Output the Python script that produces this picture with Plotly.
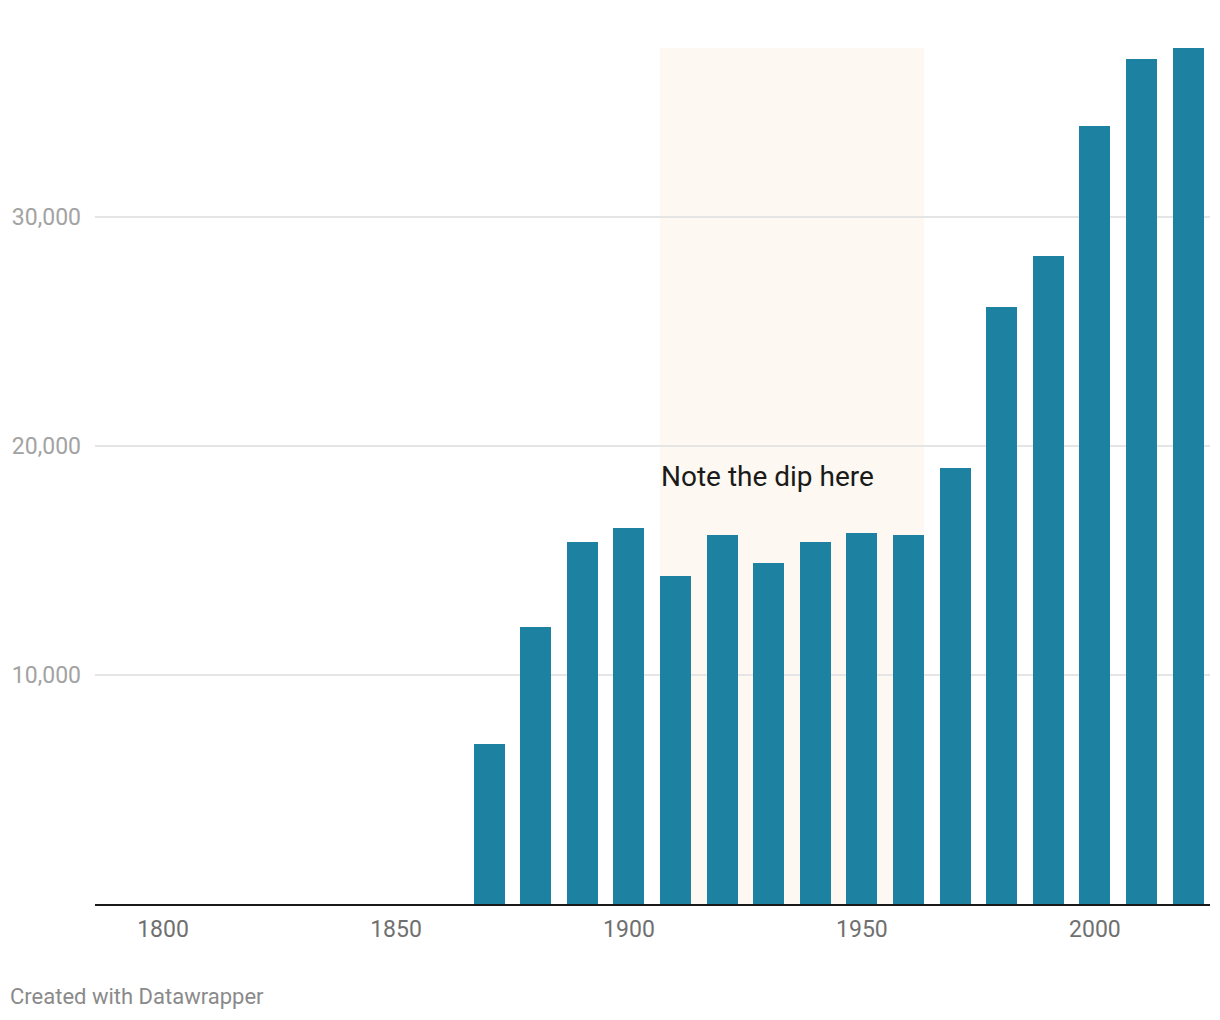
import plotly.graph_objects as go

years = [1870, 1880, 1890, 1900, 1910, 1920, 1930, 1940, 1950, 1960,
         1970, 1980, 1990, 2000, 2010, 2020]
values = [7000, 12100, 15800, 16400, 14300, 16100, 14900, 15800, 16200, 16100,
          19050, 26050, 28280, 33950, 36880, 37360]

y_tick_vals = [10000, 20000, 30000]
y_tick_text = ["10,000", "20,000", "30,000"]
x_tick_vals = [1800, 1850, 1900, 1950, 2000]
x_tick_text = ["1800", "1850", "1900", "1950", "2000"]

highlight_from = 1910
highlight_to = 1960
annotation_text = "Note the dip here"
annotation_value = 18670
footer_text = "Created with Datawrapper"

BAR_W = 6.65
BAR_COLOR = "#1d81a2"
FONT = "Roboto"

W, H = 1220, 1020
ML, MR, MT, MB = 95, 10, 48, 116

fig = go.Figure()
fig.add_trace(go.Bar(
    x=years, y=values, width=BAR_W,
    marker=dict(color=BAR_COLOR, line=dict(width=0)),
    hoverinfo="x+y",
))

fig.add_shape(
    type="rect", xref="x", yref="paper",
    x0=highlight_from - BAR_W / 2, x1=highlight_to + BAR_W / 2,
    y0=0, y1=1,
    fillcolor="#fdf8f1", line=dict(width=0), layer="below",
)

fig.add_annotation(
    x=highlight_from - BAR_W / 2, y=annotation_value, xref="x", yref="y",
    text=annotation_text, showarrow=False, xanchor="left", yanchor="middle",
    xshift=-1,
    font=dict(family=FONT, size=28, color="#1a1a1a"),
)

fig.add_annotation(
    x=-(ML - 8) / (W - ML - MR), y=-(997 - (H - MB)) / (H - MT - MB),
    xref="paper", yref="paper",
    text=footer_text, showarrow=False, xanchor="left", yanchor="middle",
    font=dict(family=FONT, size=22, color="#8a8a8a"),
)

fig.update_layout(
    width=W, height=H,
    margin=dict(l=ML, r=MR, t=MT, b=MB, pad=0),
    paper_bgcolor="white", plot_bgcolor="white",
    showlegend=False,
    bargap=0,
    font=dict(family=FONT),
    xaxis=dict(
        range=[1785.4, 2024.7],
        tickvals=x_tick_vals, ticktext=x_tick_text,
        showgrid=False, zeroline=False,
        showline=True, linecolor="#1a1a1a", linewidth=2,
        ticks="", ticklabelstandoff=3,
        tickfont=dict(family=FONT, size=23, color="#707070"),
        fixedrange=True,
    ),
    yaxis=dict(
        range=[0, 37360],
        tickvals=y_tick_vals, ticktext=y_tick_text,
        showgrid=True, gridcolor="#e5e5e5", gridwidth=2,
        zeroline=False, showline=False,
        ticks="", ticklabelstandoff=13,
        tickfont=dict(family=FONT, size=23, color="#a3a3a3"),
        fixedrange=True,
    ),
)

fig.write_html(
    "out.html",
    config={"displayModeBar": False},
    post_script="document.body.style.margin='0';document.body.style.overflow='hidden';",
)
